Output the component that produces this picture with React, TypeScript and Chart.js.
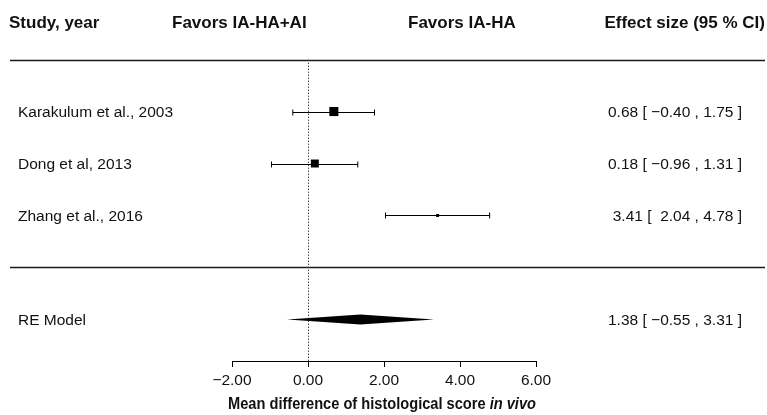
import React, { useEffect, useRef } from "react";
import { Chart, registerables } from "chart.js";

Chart.register(...registerables);

const studies = ["Karakulum et al., 2003", "Dong et al, 2013", "Zhang et al., 2016"];
const estimates = [0.68, 0.18, 3.41];
const lowers = [-0.40, -0.96, 2.04];
const uppers = [1.75, 1.31, 4.78];
const weights = [1.0, 0.88, 0.33];
const studyRows = [6, 5, 4];

const reLabel = "RE Model";
const reEstimate = 1.38;
const reLower = -0.55;
const reUpper = 3.31;
const reRow = 2;

const separatorRows = [7, 3];
const xTicks = [-2, 0, 2, 4, 6];

const headers = ["Study, year", "Favors IA-HA+AI", "Favors IA-HA", "Effect size (95 % CI)"];
const axisTitleMain = "Mean difference of histological score ";
const axisTitleItalic = "in vivo";

const FONT = "'Liberation Sans', Arial, Helvetica, sans-serif";
const W = 767;
const H = 415;

function fmt(v: number): string {
  const s = Math.abs(v).toFixed(2);
  return v < 0 ? "\u2212" + s : s;
}
function ciText(e: number, l: number, u: number): string {
  const lo = l < 0 ? fmt(l) : " " + fmt(l);
  return `${fmt(e)} [ ${lo} , ${fmt(u)} ]`;
}

const forestPlugin = {
  id: "forest",
  beforeDatasetsDraw(chart: any) {
    const { ctx, scales } = chart;
    const x = scales.x;
    const y = scales.y;
    ctx.save();
    ctx.strokeStyle = "#1a1a1a";
    ctx.lineWidth = 1.5;
    separatorRows.forEach((r) => {
      const py = Math.round(y.getPixelForValue(r)) + 0.5;
      ctx.beginPath();
      ctx.moveTo(10, py);
      ctx.lineTo(765, py);
      ctx.stroke();
    });
    const zx = Math.round(x.getPixelForValue(0)) + 0.5;
    ctx.strokeStyle = "#444";
    ctx.lineWidth = 1;
    ctx.setLineDash([1.5, 1.5]);
    ctx.beginPath();
    ctx.moveTo(zx, y.getPixelForValue(separatorRows[0]));
    ctx.lineTo(zx, y.bottom);
    ctx.stroke();
    ctx.setLineDash([]);
    ctx.strokeStyle = "#000";
    ctx.lineWidth = 1;
    studies.forEach((_, i) => {
      const py = Math.round(y.getPixelForValue(studyRows[i])) + 0.5;
      const x1 = x.getPixelForValue(lowers[i]);
      const x2 = x.getPixelForValue(uppers[i]);
      ctx.beginPath();
      ctx.moveTo(x1, py);
      ctx.lineTo(x2, py);
      ctx.moveTo(x1, py - 3);
      ctx.lineTo(x1, py + 3);
      ctx.moveTo(x2, py - 3);
      ctx.lineTo(x2, py + 3);
      ctx.stroke();
    });
    const dy = y.getPixelForValue(reRow);
    ctx.fillStyle = "#000";
    ctx.beginPath();
    ctx.moveTo(x.getPixelForValue(reLower), dy);
    ctx.lineTo(x.getPixelForValue(reEstimate), dy - 5);
    ctx.lineTo(x.getPixelForValue(reUpper), dy);
    ctx.lineTo(x.getPixelForValue(reEstimate), dy + 5);
    ctx.closePath();
    ctx.fill();
    ctx.restore();
  },
  afterDraw(chart: any) {
    const { ctx, scales } = chart;
    const x = scales.x;
    const y = scales.y;
    ctx.save();
    ctx.fillStyle = "#111";
    ctx.textBaseline = "alphabetic";
    ctx.font = `bold 17px ${FONT}`;
    ctx.textAlign = "left";
    ctx.fillText(headers[0], 9, 28);
    ctx.fillText(headers[1], 172, 28);
    ctx.fillText(headers[2], 408, 28);
    ctx.textAlign = "right";
    ctx.fillText(headers[3], 765, 28);
    ctx.font = `15.5px ${FONT}`;
    studies.forEach((s, i) => {
      const py = y.getPixelForValue(studyRows[i]) + 5.5;
      ctx.textAlign = "left";
      ctx.fillText(s, 18, py);
      ctx.textAlign = "right";
      ctx.fillText(ciText(estimates[i], lowers[i], uppers[i]), 742, py);
    });
    const ry = y.getPixelForValue(reRow) + 5.5;
    ctx.textAlign = "left";
    ctx.fillText(reLabel, 18, ry);
    ctx.textAlign = "right";
    ctx.fillText(ciText(reEstimate, reLower, reUpper), 742, ry);
    // axis title (condensed bold, italic "in vivo")
    const tSize = 16.5;
    ctx.font = `bold ${tSize}px ${FONT}`;
    const w1 = ctx.measureText(axisTitleMain).width;
    ctx.font = `italic bold ${tSize}px ${FONT}`;
    const w2 = ctx.measureText(axisTitleItalic).width;
    const targetW = 308;
    const k = targetW / (w1 + w2);
    const cx = (x.left + x.right) / 2 - 2;
    ctx.translate(cx - targetW / 2, 409);
    ctx.scale(k, 1);
    ctx.textAlign = "left";
    ctx.font = `bold ${tSize}px ${FONT}`;
    ctx.fillText(axisTitleMain, 0, 0);
    ctx.font = `italic bold ${tSize}px ${FONT}`;
    ctx.fillText(axisTitleItalic, w1, 0);
    ctx.restore();
  },
};

export default function App() {
  const ref = useRef<HTMLCanvasElement>(null);
  useEffect(() => {
    if (!ref.current) return;
    const chart = new Chart(ref.current, {
      type: "scatter",
      data: {
        datasets: [
          {
            data: estimates.map((e, i) => ({ x: e, y: studyRows[i] })),
            pointStyle: "rect",
            pointRadius: weights.map((w) => 6.4 * w),
            backgroundColor: "#000",
            borderColor: "#000",
            borderWidth: 0,
          },
        ],
      },
      options: {
        responsive: false,
        animation: false,
        events: [],
        layout: { padding: { left: 232, right: 231, top: 18, bottom: 0 } },
        plugins: { legend: { display: false }, tooltip: { enabled: false } },
        scales: {
          x: {
            type: "linear",
            min: xTicks[0],
            max: xTicks[xTicks.length - 1],
            afterBuildTicks: (s: any) => {
              s.ticks = xTicks.map((v) => ({ value: v }));
            },
            afterFit: (s: any) => {
              s.height = H - 361;
            },
            ticks: {
              callback: (v: any) => fmt(Number(v)),
              font: { family: FONT, size: 15.5 },
              color: "#111",
              padding: 4,
              maxRotation: 0,
              autoSkip: false,
            },
            grid: {
              drawOnChartArea: false,
              drawTicks: true,
              tickLength: 6,
              color: "#000",
              tickColor: "#000",
              lineWidth: 1,
            },
            border: { display: true, color: "#000", width: 1 },
          },
          y: {
            type: "linear",
            display: false,
            min: 1.2,
            max: 7.8,
          },
        },
      },
      plugins: [forestPlugin],
    });
    return () => chart.destroy();
  }, []);
  return (
    <div style={{ position: "fixed", left: 0, top: 0, width: W, height: H, background: "#fff" }}>
      <canvas ref={ref} width={W} height={H} style={{ width: W, height: H, display: "block" }} />
    </div>
  );
}
